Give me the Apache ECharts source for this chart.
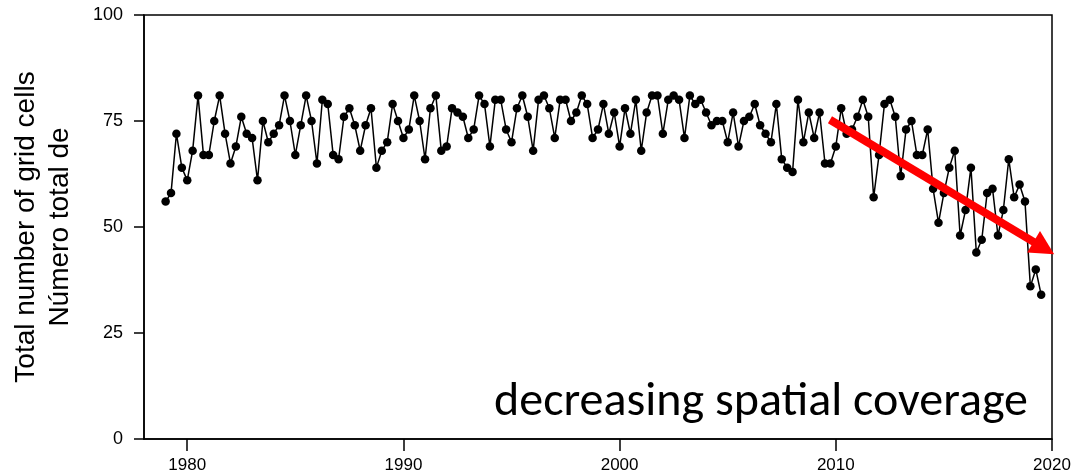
<!DOCTYPE html>
<html>
<head>
<meta charset="utf-8">
<script src="https://cdn.jsdelivr.net/npm/echarts@6/dist/echarts.min.js"></script>
<style>
  html, body { margin: 0; padding: 0; background: #fff; }
  #chart { width: 1079px; height: 476px; }
</style>
</head>
<body>
<div id="chart"></div>
<script>
// ---- data ----
const startYear = 1979;      // first quarterly observation
const stepYears = 0.25;      // quarterly sampling
const counts = [
  56,58,72,64,61,68,81,67,67,75,81,72,65,69,76,72,71,61,75,70,
  72,74,81,75,67,74,81,75,65,80,79,67,66,76,78,74,68,74,78,64,
  68,70,79,75,71,73,81,75,66,78,81,68,69,78,77,76,71,73,81,79,
  69,80,80,73,70,78,81,76,68,80,81,78,71,80,80,75,77,81,79,71,
  73,79,72,77,69,78,72,80,68,77,81,81,72,80,81,80,71,81,79,80,
  77,74,75,75,70,77,69,75,76,79,74,72,70,79,66,64,63,80,70,77,
  71,77,65,65,69,78,72,73,76,80,76,57,67,79,80,76,62,73,75,67,
  67,73,59,51,58,64,68,48,54,64,44,47,58,59,48,54,66,57,60,56,
  36,40,34
];
const xTicks = [1980, 1990, 2000, 2010, 2020];
const yTicks = [0, 25, 50, 75, 100];
const yTitle = ['Total number of grid cells', 'Número total de'];
const annotation = 'decreasing spatial coverage';

// annotation arrow end points (data coordinates)
const arrowFrom = [2009.73, 75.3];
const arrowTo = [2020.1, 43.6];

const seriesData = counts.map((v, i) => [startYear + i * stepYears, v]);

const chart = echarts.init(document.getElementById('chart'), null, { renderer: 'canvas' });
const axisFont = 'Liberation Sans, Arial, sans-serif';

chart.setOption({
  animation: false,
  backgroundColor: '#fff',
  grid: {
    left: 144, right: 27, top: 15, bottom: 37,
    show: true, borderColor: '#000', borderWidth: 1.5, backgroundColor: 'transparent'
  },
  xAxis: {
    type: 'value', min: 1978, max: 2020,
    axisLine: { show: true, lineStyle: { color: '#000', width: 1.5 } },
    axisTick: { show: true, inside: false, length: 12, customValues: xTicks, lineStyle: { color: '#000', width: 1.5 } },
    axisLabel: { show: true, customValues: xTicks, margin: 18, color: '#000', fontSize: 17, fontFamily: axisFont, formatter: v => String(v) },
    splitLine: { show: false }
  },
  yAxis: {
    type: 'value', min: 0, max: 100, interval: 25,
    axisLine: { show: true, lineStyle: { color: '#000', width: 1.5 } },
    axisTick: { show: true, inside: false, length: 10, lineStyle: { color: '#000', width: 1.5 } },
    axisLabel: { show: true, margin: 21, color: '#000', fontSize: 18, fontFamily: axisFont },
    splitLine: { show: false },
    name: yTitle.join('\n'),
    nameLocation: 'middle',
    nameRotate: 90,
    nameGap: 67,
    nameTextStyle: { color: '#000', fontSize: 28, fontFamily: axisFont, lineHeight: 34, align: 'center' }
  },
  series: [{
    type: 'line',
    data: seriesData,
    symbol: 'circle',
    symbolSize: 8.5,
    showSymbol: true,
    clip: false,
    itemStyle: { color: '#000' },
    lineStyle: { color: '#000', width: 1.5 },
    z: 2
  }]
});

// arrow + annotation text via graphic, positioned through the chart's own scales
const p0 = chart.convertToPixel({ gridIndex: 0 }, arrowFrom);
const p1 = chart.convertToPixel({ gridIndex: 0 }, arrowTo);
const dx = p1[0] - p0[0], dy = p1[1] - p0[1];
const len = Math.sqrt(dx * dx + dy * dy);
const ux = dx / len, uy = dy / len;
const nx = -uy, ny = ux;
const headLen = 24, headHalf = 12.5;
const bx = p1[0] - ux * headLen, by = p1[1] - uy * headLen;

chart.setOption({
  graphic: [
    {
      type: 'line', z: 100,
      shape: { x1: p0[0], y1: p0[1], x2: bx + ux, y2: by + uy },
      style: { stroke: '#ff0000', lineWidth: 8, lineCap: 'butt' }
    },
    {
      type: 'polygon', z: 100,
      shape: { points: [[p1[0], p1[1]], [bx + nx * headHalf, by + ny * headHalf], [bx - nx * headHalf, by - ny * headHalf]] },
      style: { fill: '#ff0000' }
    },
    {
      type: 'text', z: 50,
      x: 1028, y: 403,
      style: {
        text: annotation,
        fill: '#000',
        font: '48px Carlito, Lato, "Open Sans", sans-serif',
        textAlign: 'right',
        textVerticalAlign: 'middle'
      }
    }
  ]
});
</script>
</body>
</html>
